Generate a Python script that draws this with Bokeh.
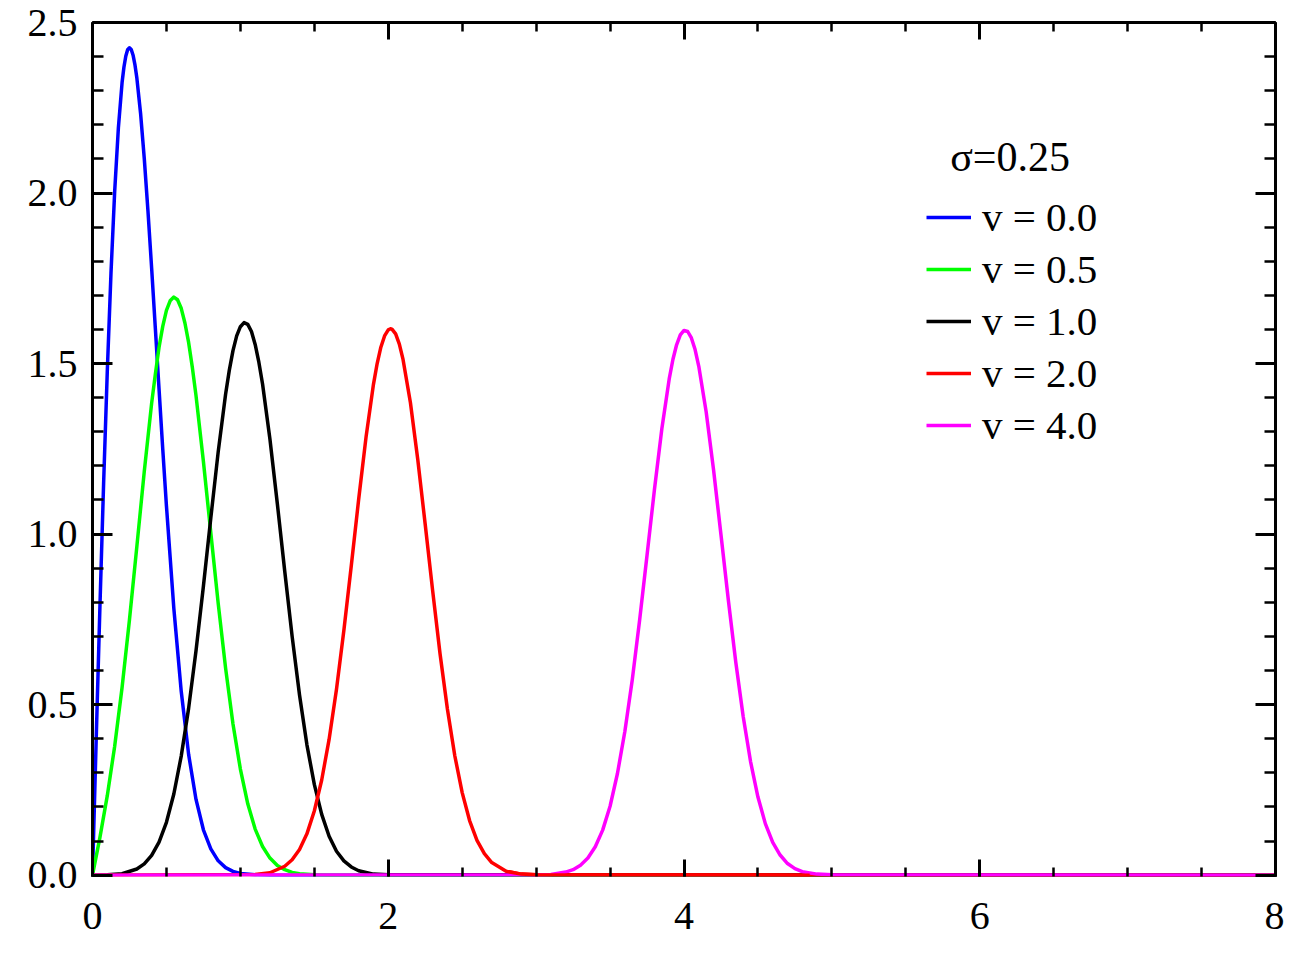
from bokeh.plotting import figure
from bokeh.models import Range1d, LinearAxis, SingleIntervalTicker, Legend, LegendItem, Label, PrintfTickFormatter
from bokeh.embed import file_html
from bokeh.resources import INLINE

# ---- data (Rice pdf, sigma = 0.25) ----
sigma_label = "σ=0.25"
series_labels = ["v = 0.0", "v = 0.5", "v = 1.0", "v = 2.0", "v = 4.0"]
series_colors = ["#0000ff", "#00ff00", "#000000", "#ff0000", "#ff00ff"]

x_v00 = [0, 0.025, 0.05, 0.075, 0.1, 0.125, 0.15, 0.175, 0.2, 0.2125, 0.225, 0.2375, 0.25,
         0.2625, 0.275, 0.2875, 0.3, 0.325, 0.35, 0.375, 0.4, 0.425, 0.45, 0.475, 0.5, 0.55,
         0.6, 0.65, 0.7, 0.75, 0.8, 0.85, 0.9, 0.95, 1.0, 1.1, 1.2, 8.0]
y_v00 = [0, 0.398, 0.784, 1.147, 1.477, 1.765, 2.005, 2.191, 2.324, 2.369, 2.401, 2.420, 2.426,
         2.420, 2.403, 2.375, 2.337, 2.234, 2.102, 1.948, 1.779, 1.603, 1.425, 1.250, 1.083, 0.782,
         0.539, 0.354, 0.222, 0.133, 0.077, 0.042, 0.022, 0.011, 0.005, 0.001, 0, 0]

x_v05 = [0, 0.05, 0.1, 0.15, 0.2, 0.25, 0.3, 0.35, 0.4, 0.425, 0.45, 0.475, 0.5, 0.525, 0.55,
         0.575, 0.6, 0.625, 0.65, 0.675, 0.7, 0.75, 0.8, 0.85, 0.9, 0.95, 1.0, 1.05, 1.1, 1.15,
         1.2, 1.25, 1.3, 1.35, 1.4, 1.5, 1.6, 8.0]
y_v05 = [0, 0.110, 0.233, 0.378, 0.550, 0.749, 0.964, 1.183, 1.384, 1.469, 1.548, 1.609, 1.656,
         1.684, 1.695, 1.687, 1.662, 1.619, 1.562, 1.489, 1.406, 1.213, 1.004, 0.797, 0.607,
         0.443, 0.311, 0.209, 0.135, 0.084, 0.050, 0.028, 0.016, 0.008, 0.004, 0.001, 0, 0]

x_v10 = [0, 0.1, 0.2, 0.3, 0.35, 0.4, 0.45, 0.5, 0.55, 0.6, 0.65, 0.7, 0.75, 0.8, 0.85, 0.9,
         0.925, 0.95, 0.975, 1.0, 1.025, 1.05, 1.075, 1.1, 1.125, 1.15, 1.2, 1.25, 1.3, 1.35,
         1.4, 1.45, 1.5, 1.55, 1.6, 1.65, 1.7, 1.75, 1.8, 1.9, 2.0, 8.0]
y_v10 = [0, 0.001, 0.004, 0.018, 0.033, 0.058, 0.097, 0.155, 0.238, 0.349, 0.489, 0.658, 0.847,
         1.047, 1.241, 1.410, 1.480, 1.538, 1.581, 1.608, 1.620, 1.615, 1.594, 1.556, 1.504,
         1.440, 1.278, 1.089, 0.891, 0.700, 0.528, 0.382, 0.266, 0.178, 0.114, 0.070, 0.042,
         0.024, 0.013, 0.003, 0.001, 0]

x_v20 = [0, 1.1, 1.2, 1.3, 1.35, 1.4, 1.45, 1.5, 1.55, 1.6, 1.65, 1.7, 1.75, 1.8, 1.85, 1.9,
         1.925, 1.95, 1.975, 2.0, 2.015, 2.025, 2.05, 2.075, 2.1, 2.15, 2.2, 2.25, 2.3, 2.35,
         2.4, 2.45, 2.5, 2.55, 2.6, 2.65, 2.7, 2.8, 2.9, 3.0, 4.85, 8.0]
y_v20 = [0, 0.002, 0.007, 0.026, 0.045, 0.075, 0.121, 0.188, 0.279, 0.398, 0.545, 0.718, 0.907,
         1.102, 1.285, 1.439, 1.500, 1.548, 1.581, 1.599, 1.602, 1.601, 1.587, 1.557, 1.512,
         1.385, 1.217, 1.028, 0.835, 0.650, 0.487, 0.350, 0.242, 0.160, 0.102, 0.063, 0.037,
         0.011, 0.003, 0.001, 0, 0]

x_v40 = [0, 3.0, 3.1, 3.2, 3.25, 3.3, 3.35, 3.4, 3.45, 3.5, 3.55, 3.6, 3.65, 3.7, 3.75, 3.8,
         3.85, 3.9, 3.925, 3.95, 3.975, 4.0, 4.025, 4.05, 4.075, 4.1, 4.15, 4.2, 4.25, 4.3,
         4.35, 4.4, 4.45, 4.5, 4.55, 4.6, 4.65, 4.7, 4.75, 4.8, 4.9, 5.0, 8.0]
y_v40 = [0, 0.0005, 0.002, 0.009, 0.016, 0.029, 0.050, 0.083, 0.132, 0.202, 0.298, 0.421, 0.572,
         0.748, 0.938, 1.130, 1.308, 1.455, 1.512, 1.555, 1.584, 1.597, 1.594, 1.575, 1.541,
         1.492, 1.358, 1.188, 0.998, 0.806, 0.625, 0.466, 0.333, 0.229, 0.151, 0.096, 0.059,
         0.034, 0.019, 0.010, 0.003, 0.001, 0]

x_ticks_major = [0, 2, 4, 6, 8]
y_ticks_major = [0.0, 0.5, 1.0, 1.5, 2.0, 2.5]

FONT = "Liberation Serif"
TICK_FS = "40px"

p = figure(width=1284, height=959, x_range=Range1d(0, 8), y_range=Range1d(-0.004, 2.5),
           output_backend="svg", toolbar_location=None,
           min_border_left=92, min_border_right=9, min_border_top=22, min_border_bottom=83)
p.xgrid.visible = False
p.ygrid.visible = False
p.outline_line_color = None
p.background_fill_color = "white"
p.border_fill_color = "white"


def style_axis(ax, interval, minors, major_in, minor_in, labels, line=True):
    ax.ticker = SingleIntervalTicker(interval=interval, num_minor_ticks=minors)
    ax.axis_line_color = "black" if line else None
    ax.axis_line_width = 3
    ax.major_tick_in = major_in
    ax.major_tick_out = 0
    ax.minor_tick_in = minor_in
    ax.minor_tick_out = 0
    ax.major_tick_line_width = 3
    ax.minor_tick_line_width = 2.5
    ax.major_tick_line_color = "black"
    ax.minor_tick_line_color = "black"
    if labels:
        ax.major_label_text_font = FONT
        ax.major_label_text_font_size = TICK_FS
        ax.major_label_text_color = "black"
    else:
        ax.major_label_text_font_size = "1px"
        ax.major_label_text_color = None
        ax.major_label_standoff = 0


style_axis(p.xaxis[0], 2, 4, 17, 9, True, line=False)
p.xaxis[0].major_label_standoff = 26
style_axis(p.yaxis[0], 0.5, 5, 20, 11, True)
p.yaxis[0].major_label_standoff = 15
p.yaxis[0].formatter = PrintfTickFormatter(format="%.1f")

top_ax = LinearAxis()
style_axis(top_ax, 2, 4, 17, 9, False)
p.add_layout(top_ax, "above")
right_ax = LinearAxis()
style_axis(right_ax, 0.5, 5, 20, 11, False)
p.add_layout(right_ax, "right")

xs = [x_v00, x_v05, x_v10, x_v20, x_v40]
ys = [y_v00, y_v05, y_v10, y_v20, y_v40]
renderers = []
for xx, yy, c in zip(xs, ys, series_colors):
    renderers.append(p.line(xx, yy, line_color=c, line_width=3.5, line_join="round"))

# red near-zero tail lies on top of the magenta baseline in the original
x_red_tail = [x for x in x_v20 if 2.8 <= x <= 4.85]
y_red_tail = [y for x, y in zip(x_v20, y_v20) if 2.8 <= x <= 4.85]
p.line(x_red_tail, y_red_tail, line_color=series_colors[3], line_width=3.5, line_join="round")

legend = Legend(items=[LegendItem(label=l, renderers=[r]) for l, r in zip(series_labels, renderers)],
                location=(834, 425), padding=0, margin=0, spacing=0,
                glyph_width=45, glyph_height=52, label_height=52, label_standoff=11,
                label_text_font=FONT, label_text_font_size="41px", label_text_color="black",
                border_line_color=None, background_fill_alpha=0)
p.add_layout(legend)

title = Label(x=5.80, y=2.105, text=sigma_label, text_align="left", text_baseline="middle",
              text_font=FONT, text_font_size="42px", text_color="black")
p.add_layout(title)

open("out.html", "w").write(file_html(p, INLINE))
